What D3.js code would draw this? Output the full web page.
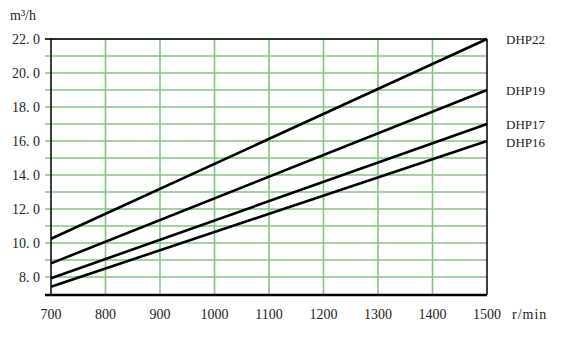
<!DOCTYPE html>
<html>
<head>
<meta charset="utf-8">
<script src="https://cdn.jsdelivr.net/npm/d3@7"></script>
<style>
  body { margin: 0; background: #fff; }
  text { font-family: "Liberation Serif", "DejaVu Serif", serif; fill: #222; }
</style>
</head>
<body>
<div id="viz"></div>
<script>
// chart data
const speeds = [700, 1500];
const series = ["DHP22", "DHP19", "DHP17", "DHP16"];
const flowDHP22 = [10.25, 22.0];
const flowDHP19 = [8.8, 19.0];
const flowDHP17 = [7.92, 17.0];
const flowDHP16 = [7.43, 16.0];
const xTicks = [700, 800, 900, 1000, 1100, 1200, 1300, 1400, 1500];
const yTicks = [8, 10, 12, 14, 16, 18, 20, 22];
const yGrid = [8, 9, 10, 11, 12, 13, 14, 15, 16, 17, 18, 19, 20, 21, 22];

const flows = [flowDHP22, flowDHP19, flowDHP17, flowDHP16];

const outerWidth = 561, outerHeight = 345;
const plot = {left: 51, right: 487, top: 39, bottom: 295};

const svg = d3.select("#viz").append("svg")
    .attr("width", outerWidth)
    .attr("height", outerHeight);

const x = d3.scaleLinear().domain([700, 1500]).range([plot.left, plot.right]);
const y = d3.scaleLinear().domain([6.94, 22]).range([plot.bottom, plot.top]);

// green grid
svg.append("g")
    .selectAll("line.h")
    .data(yGrid).enter()
    .append("line")
    .attr("x1", plot.left - 6)
    .attr("x2", plot.right)
    .attr("y1", d => y(d))
    .attr("y2", d => y(d))
    .attr("stroke", "#84c384")
    .attr("stroke-width", 1.6);

svg.append("g")
    .selectAll("line.v")
    .data(xTicks.slice(1, -1)).enter()
    .append("line")
    .attr("x1", d => x(d))
    .attr("x2", d => x(d))
    .attr("y1", plot.top)
    .attr("y2", plot.bottom)
    .attr("stroke", "#84c384")
    .attr("stroke-width", 1.6);

// frame
svg.append("line")
    .attr("x1", plot.left - 6).attr("x2", plot.right)
    .attr("y1", plot.top).attr("y2", plot.top)
    .attr("stroke", "#000").attr("stroke-width", 1.5);
svg.append("line")
    .attr("x1", plot.right).attr("x2", plot.right)
    .attr("y1", plot.top).attr("y2", plot.bottom)
    .attr("stroke", "#000").attr("stroke-width", 1.5);
svg.append("line")
    .attr("x1", plot.left).attr("x2", plot.left)
    .attr("y1", plot.top).attr("y2", plot.bottom)
    .attr("stroke", "#000").attr("stroke-width", 1.5);
svg.append("line")
    .attr("x1", plot.left - 6).attr("x2", plot.right)
    .attr("y1", plot.bottom).attr("y2", plot.bottom)
    .attr("stroke", "#000").attr("stroke-width", 2.5);

// lines
const line = d3.line()
    .x((d, i) => x(speeds[i]))
    .y(d => y(d));

svg.append("g")
    .selectAll("path")
    .data(flows).enter()
    .append("path")
    .attr("d", d => line(d))
    .attr("fill", "none")
    .attr("stroke", "#000")
    .attr("stroke-width", 2.6);

// y tick labels
svg.append("g")
    .selectAll("text")
    .data(yTicks).enter()
    .append("text")
    .attr("x", 40)
    .attr("y", d => y(d))
    .attr("dy", "0.35em")
    .attr("text-anchor", "end")
    .style("font-size", "14px")
    .text(d => d.toFixed(1).replace(".", ". "));

// x tick labels
svg.append("g")
    .selectAll("text")
    .data(xTicks).enter()
    .append("text")
    .attr("x", d => x(d))
    .attr("y", 319)
    .attr("text-anchor", "middle")
    .style("font-size", "14px")
    .text(d => d);

// axis titles
svg.append("text")
    .attr("x", 10).attr("y", 20)
    .style("font-size", "14px")
    .text("m³/h");
svg.append("text")
    .attr("x", 512).attr("y", 319)
    .style("font-size", "14px")
    .style("letter-spacing", "1px")
    .text("r/min");

// series labels
const labelShift = [0, 0, 0, 1.5];
svg.append("g")
    .selectAll("text")
    .data(series).enter()
    .append("text")
    .attr("x", 506)
    .attr("y", (d, i) => y(flows[i][1]) + labelShift[i])
    .attr("dy", "0.35em")
    .style("font-size", "13px")
    .text(d => d);
</script>
</body>
</html>
